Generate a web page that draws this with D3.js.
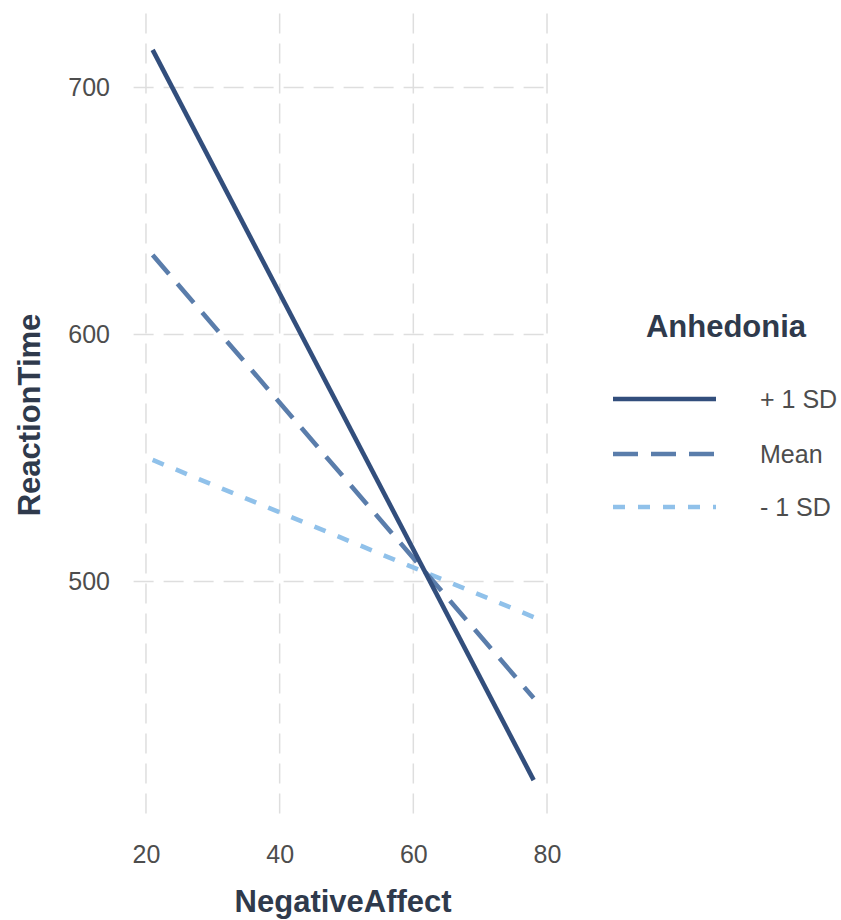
<!DOCTYPE html>
<html>
<head>
<meta charset="utf-8">
<script src="https://cdn.jsdelivr.net/npm/d3@7"></script>
<style>
  html, body { margin: 0; padding: 0; background: #ffffff; }
  svg { display: block; font-family: "Liberation Sans", Arial, Helvetica, sans-serif; }
</style>
</head>
<body>
<svg id="chart" width="841" height="920"></svg>
<script>
// ---- Data ----
const groups = ["+ 1 SD", "Mean", "- 1 SD"];
const negAffect = [21, 78];
const rtPlus1SD = [715.2, 419.6];
const rtMean = [632.2, 452.8];
const rtMinus1SD = [549.2, 485.6];
const xTicks = [20, 40, 60, 80];
const yTicks = [500, 600, 700];
const legendTitle = "Anhedonia";
const xTitle = "NegativeAffect";
const yTitle = "ReactionTime";

const seriesValues = [rtPlus1SD, rtMean, rtMinus1SD];
const series = groups.map((g, i) => ({
  name: g,
  points: negAffect.map((x, j) => ({ x: x, y: seriesValues[i][j] }))
}));

// ---- Styles ----
const colors = ["#324e7c", "#5a7dab", "#90c1ea"];
const dashes = [null, "25 13", "12 13"];
const lineW = 4.6;

// ---- Layout ----
const svg = d3.select("#chart");
const panel = { left: 133.6, right: 552.7, top: 13.4, bottom: 816.6 };

const xMin = d3.min(negAffect), xMax = d3.max(negAffect);
const allY = seriesValues.flat();
const yMin = d3.min(allY), yMax = d3.max(allY);
const xPad = (xMax - xMin) * 0.05, yPad = (yMax - yMin) * 0.05;

const x = d3.scaleLinear().domain([xMin - xPad, xMax + xPad]).range([panel.left, panel.right]);
const y = d3.scaleLinear().domain([yMin - yPad, yMax + yPad]).range([panel.bottom, panel.top]);

// Grid lines
const grid = svg.append("g");
grid.selectAll("line.vx").data(xTicks).enter().append("line")
  .attr("x1", d => x(d)).attr("x2", d => x(d))
  .attr("y1", panel.top).attr("y2", panel.bottom)
  .attr("stroke", "#dedede").attr("stroke-width", 1.5)
  .attr("stroke-dasharray", "20 10");
grid.selectAll("line.hy").data(yTicks).enter().append("line")
  .attr("y1", d => y(d)).attr("y2", d => y(d))
  .attr("x1", panel.left).attr("x2", panel.right)
  .attr("stroke", "#dedede").attr("stroke-width", 1.5)
  .attr("stroke-dasharray", "20 10");

// Axes (labels only)
const xAxis = d3.axisBottom(x).tickValues(xTicks).tickSize(0).tickPadding(0);
const gx = svg.append("g").attr("transform", `translate(0, 863)`).call(xAxis);
gx.select(".domain").remove();
gx.selectAll("text").attr("font-size", 25).attr("fill", "#4d4d4d")
  .attr("dy", "0").attr("y", 0)
  .style("font-family", "Liberation Sans, Arial, sans-serif");

const yAxis = d3.axisLeft(y).tickValues(yTicks).tickSize(0).tickPadding(0);
const gy = svg.append("g").attr("transform", `translate(110, 0)`).call(yAxis);
gy.select(".domain").remove();
gy.selectAll("text").attr("font-size", 25).attr("fill", "#4d4d4d")
  .style("font-family", "Liberation Sans, Arial, sans-serif");

// Axis titles
svg.append("text")
  .attr("x", (panel.left + panel.right) / 2).attr("y", 912)
  .attr("text-anchor", "middle")
  .attr("font-size", 31).attr("font-weight", "bold").attr("fill", "#2f3a4c")
  .text(xTitle);
svg.append("text")
  .attr("transform", `translate(40, ${(panel.top + panel.bottom) / 2}) rotate(-90)`)
  .attr("text-anchor", "middle")
  .attr("font-size", 31).attr("font-weight", "bold").attr("fill", "#2f3a4c")
  .text(yTitle);

// Lines
const line = d3.line().x(d => x(d.x)).y(d => y(d.y));
svg.append("g").selectAll("path").data(series.slice().reverse()).enter().append("path")
  .attr("d", d => line(d.points))
  .attr("fill", "none")
  .attr("stroke", d => colors[groups.indexOf(d.name)])
  .attr("stroke-width", lineW)
  .attr("stroke-dasharray", d => dashes[groups.indexOf(d.name)]);

// Legend
const lg = svg.append("g");
lg.append("text")
  .attr("x", 726).attr("y", 337)
  .attr("text-anchor", "middle")
  .attr("font-size", 31).attr("font-weight", "bold").attr("fill", "#2f3a4c")
  .text(legendTitle);
const rowY = [399, 454, 507];
groups.forEach((g, i) => {
  lg.append("line")
    .attr("x1", 613).attr("x2", 716)
    .attr("y1", rowY[i]).attr("y2", rowY[i])
    .attr("stroke", colors[i]).attr("stroke-width", lineW)
    .attr("stroke-dasharray", dashes[i]);
  lg.append("text")
    .attr("x", 760).attr("y", rowY[i]).attr("dy", "0.36em")
    .attr("font-size", 25).attr("fill", "#4d4d4d")
    .text(g);
});
</script>
</body>
</html>
